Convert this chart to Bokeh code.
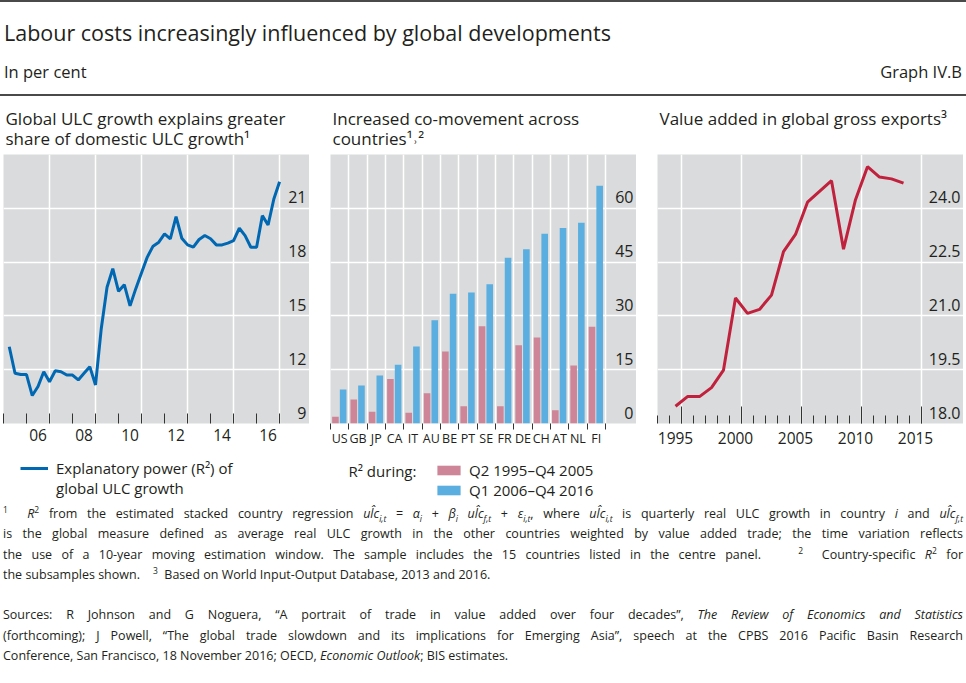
from bokeh.plotting import figure
from bokeh.models import (FixedTicker, Legend, LegendItem, Label, Title, Div,
                          ColumnDataSource, LinearAxis)
from bokeh.layouts import column, row
from bokeh.transform import dodge
from bokeh.core.properties import value
from bokeh.embed import file_html
from bokeh.resources import INLINE

NAN = float("nan")

# ---------------- data ----------------
# Left panel: quarterly explanatory power (R2), 2005Q1 - 2016Q4
ulc_years = list(range(2005, 2017))
ulc_r2 = [13.28, 11.80, 11.73, 11.73, 10.56, 11.06, 11.89, 11.33,
          11.94, 11.89, 11.70, 11.70, 11.43, 11.80, 12.17, 11.15,
          14.30, 16.60, 17.63, 16.37, 16.74, 15.56, 16.52, 17.41,
          18.28, 18.89, 19.11, 19.57, 19.30, 20.54, 19.33, 18.96,
          18.83, 19.26, 19.48, 19.30, 18.96, 18.96, 19.06, 19.20,
          19.89, 19.48, 18.83, 18.83, 20.59, 20.07, 21.52, 22.48]
p1_label_years = [2006, 2008, 2010, 2012, 2014, 2016]
p1_tick_labels = ["06", "08", "10", "12", "14", "16"]
p1_y_ticks = [9, 12, 15, 18, 21]
p1_y_labels = ["9", "12", "15", "18", "21"]

# Centre panel: country R2 in two subsamples
countries = ["US", "GB", "JP", "CA", "IT", "AU", "BE", "PT", "SE", "FR",
             "DE", "CH", "AT", "NL", "FI"]
r2_1995_2005 = [1.9, 6.7, 3.3, 12.4, 3.0, 8.4, 20.1, 4.8, 27.1, 4.8,
                21.8, 24.0, 3.7, 16.2, 27.0]
r2_2006_2016 = [9.5, 10.6, 13.4, 16.4, 21.5, 28.8, 36.2, 36.5, 38.8, 46.2,
                48.6, 52.9, 54.5, 56.0, 66.3]
p2_y_ticks = [0, 15, 30, 45, 60]
p2_y_labels = ["0", "15", "30", "45", "60"]

# Right panel: value added in global gross exports
va_years = list(range(1995, 2015))
va_share = [18.48, 18.75, 18.75, 19.00, 19.49, 21.50, 21.07, 21.18, 21.58, 22.79,
            23.27, 24.17, 24.47, 24.77, 22.86, 24.24, 25.16, 24.87, 24.82, 24.70]
p3_label_years = [1995, 2000, 2005, 2010, 2015]
p3_tick_labels = ["1995", "2000", "2005", "2010", "2015"]
p3_y_ticks = [18.0, 19.5, 21.0, 22.5, 24.0]
p3_y_labels = ["18.0", "19.5", "21.0", "22.5", "24.0"]

# ---------------- style ----------------
FONT = "Open Sans"
TXT = "#231f20"
GRAY = "#dadbdc"
TICK = "#333333"
BLUE_LINE = "#0068b3"
PINK = "#cd8597"
BLUE_BAR = "#5aaee0"
RED = "#c0213d"

TOP = 53
BOTTOM = 32
FRAME_H = 269
FRAME_W = 306
LEG_H = 49


def base_fig(xr, yr, left=0):
    p = figure(frame_width=FRAME_W, frame_height=FRAME_H, x_range=xr, y_range=yr,
               output_backend="svg", toolbar_location=None, title=None,
               y_axis_location=None,
               min_border_left=left, min_border_right=0,
               min_border_top=TOP, min_border_bottom=BOTTOM)
    p.background_fill_color = GRAY
    p.border_fill_color = "white"
    p.outline_line_color = None
    for g in (p.xgrid, p.ygrid):
        g.grid_line_color = "white"
        g.grid_line_width = 1.5
    return p


def legend_fig(left=0):
    f = figure(frame_width=FRAME_W, frame_height=LEG_H, x_range=(0, 1), y_range=(0, 1),
               output_backend="svg", toolbar_location=None, title=None,
               x_axis_location=None, y_axis_location=None,
               min_border=0, min_border_left=left)
    f.xgrid.visible = False
    f.ygrid.visible = False
    f.outline_line_color = None
    f.background_fill_color = "white"
    f.border_fill_color = "white"
    return f


def panel_title(p, lines):
    t = Title(text="\n".join(lines), align="left", offset=2, standoff=9,
              text_font=FONT, text_font_size="17px", text_line_height=0.86,
              text_font_style="normal", text_color=TXT)
    p.add_layout(t, "above")


def y_labels(p, ticks, labels, xpos):
    p.text(x=[xpos] * len(ticks), y=ticks, text=labels,
           text_align="right", text_baseline="bottom", x_offset=-3, y_offset=-5,
           text_font=value(FONT), text_font_size="16px", text_color=TXT)


def style_xaxis(ax, size="15.5px", standoff=5):
    ax.axis_line_color = None
    ax.major_tick_in = 0
    ax.major_tick_out = 0
    ax.major_tick_line_color = None
    ax.minor_tick_line_color = TICK
    ax.minor_tick_line_width = 1
    ax.major_label_standoff = standoff
    ax.major_label_text_font = FONT
    ax.major_label_text_font_size = size
    ax.major_label_text_color = TXT


def legend(items, loc, glyph_width, label_standoff):
    return Legend(items=items, location=loc, orientation="vertical",
                  border_line_color=None, background_fill_alpha=0,
                  label_text_font=FONT, label_text_font_size="15px",
                  label_text_color=TXT, glyph_width=glyph_width, glyph_height=12,
                  label_standoff=label_standoff, label_height=20,
                  spacing=0, padding=0, margin=0)


# ---------------- panel 1 ----------------
P1_X = (2005, 2018.3)
p1 = base_fig(P1_X, (9, 24), left=3)
panel_title(p1, ["Global ULC growth explains greater", "share of domestic ULC growth\u00b9"])
q_x = [y + q / 4 for y in ulc_years for q in (1, 2, 3, 4)]
p1.line(q_x, ulc_r2, line_color=BLUE_LINE, line_width=3)
p1.xgrid.ticker = FixedTicker(ticks=[y + 1 for y in p1_label_years])
p1.ygrid.ticker = FixedTicker(ticks=p1_y_ticks[1:])
ax1 = p1.xaxis[0]
ax1.ticker = FixedTicker(ticks=[y + 0.5 for y in p1_label_years],
                         minor_ticks=list(range(ulc_years[0], ulc_years[-1] + 2)))
ax1.major_label_overrides = {y + 0.5: lab for y, lab in zip(p1_label_years, p1_tick_labels)}
style_xaxis(ax1, standoff=5)
ax1.minor_tick_in = 10
ax1.minor_tick_out = 0
y_labels(p1, p1_y_ticks, p1_y_labels, P1_X[1])

# legend key glyphs (no visible data, only their legend swatches are shown)
lf1 = legend_fig(left=3)
key1 = lf1.line(x=[NAN], y=[NAN], line_color=BLUE_LINE, line_width=3)
key1b = lf1.line(x=[NAN], y=[NAN], line_alpha=0)
lf1.add_layout(legend([LegendItem(label="Explanatory power (R\u00b2) of", renderers=[key1]),
                       LegendItem(label="global ULC growth", renderers=[key1b])],
                      (17, 6), 28, 8))

# ---------------- panel 2 ----------------
P2_X = (0, 16.7)
p2 = base_fig(P2_X, (0, 75))
panel_title(p2, ["Increased co-movement across", "countries\u00b9\u02d2\u00b2"])
src2 = ColumnDataSource(dict(pos=[i + 0.5 for i in range(len(countries))],
                             early=r2_1995_2005, late=r2_2006_2016))
p2.vbar(x=dodge("pos", -0.23), top="early", width=0.36, bottom=0,
        source=src2, fill_color=PINK, line_color=None)
p2.vbar(x=dodge("pos", 0.19), top="late", width=0.36, bottom=0,
        source=src2, fill_color=BLUE_BAR, line_color=None)
p2.xgrid.ticker = FixedTicker(ticks=list(range(1, len(countries) + 1)))
p2.ygrid.ticker = FixedTicker(ticks=p2_y_ticks[1:])
ax2 = p2.xaxis[0]
ax2.ticker = FixedTicker(ticks=[i + 0.5 for i in range(len(countries))],
                         minor_ticks=list(range(0, len(countries) + 1)))
ax2.major_label_overrides = {i + 0.5: c for i, c in enumerate(countries)}
style_xaxis(ax2, size="12.5px", standoff=0)
ax2.minor_tick_in = 0
ax2.minor_tick_out = 6
y_labels(p2, p2_y_ticks, p2_y_labels, P2_X[1])

lf2 = legend_fig()
key_pink = lf2.vbar(x=[NAN], top=[NAN], width=0.36, fill_color=PINK, line_color=None)
key_blue = lf2.vbar(x=[NAN], top=[NAN], width=0.36, fill_color=BLUE_BAR, line_color=None)
lf2.add_layout(legend([LegendItem(label="Q2 1995\u2013Q4 2005", renderers=[key_pink]),
                       LegendItem(label="Q1 2006\u2013Q4 2016", renderers=[key_blue])],
                      (104, 4), 29, 6))
lf2.add_layout(Label(x=18, y=34, x_units="screen", y_units="screen",
                     text="R\u00b2 during:", text_font=FONT, text_font_size="15px",
                     text_color=TXT, text_baseline="middle"))

# ---------------- panel 3 ----------------
P3_X = (1994, 2019.5)
p3 = base_fig(P3_X, (18, 25.5))
panel_title(p3, ["Value added in global gross exports\u00b3", "\u00a0"])
p3.line([y + 0.5 for y in va_years], va_share, line_color=RED, line_width=3)
long_ticks = [y + 1 for y in p3_label_years]
p3.xgrid.ticker = FixedTicker(ticks=long_ticks)
p3.ygrid.ticker = FixedTicker(ticks=p3_y_ticks[1:])
ax3 = p3.xaxis[0]
ax3.ticker = FixedTicker(ticks=[y + 0.5 for y in p3_label_years],
                         minor_ticks=list(range(1994, 2017)))
ax3.major_label_overrides = {y + 0.5: lab for y, lab in zip(p3_label_years, p3_tick_labels)}
style_xaxis(ax3, standoff=8)
ax3.minor_tick_in = 8
ax3.minor_tick_out = 0
ax3b = LinearAxis(ticker=FixedTicker(ticks=long_ticks, minor_ticks=[]),
                  fixed_location=18, axis_line_color=None,
                  major_tick_in=17, major_tick_out=0, major_tick_line_color=TICK,
                  minor_tick_line_color=None, major_label_text_color=None,
                  major_label_text_font_size="0px")
p3.add_layout(ax3b, "below")
y_labels(p3, p3_y_ticks, p3_y_labels, P3_X[1])

# ---------------- header / footer ----------------
RULE = "border-top:2px solid #4a4a4a"
header = Div(width=966, height=100, margin=0, text=f"""
<div style="position:relative;width:966px;height:100px;font-family:'Open Sans';color:{TXT}">
 <div style="position:absolute;left:0;top:0;width:966px;{RULE}"></div>
 <div style="position:absolute;left:4px;top:18px;font-size:21.5px;line-height:30px;white-space:nowrap">Labour costs increasingly influenced by global developments</div>
 <div style="position:absolute;left:4px;top:61px;font-size:16.5px;line-height:22px">In per cent</div>
 <div style="position:absolute;right:4px;top:61px;font-size:16.5px;line-height:22px">Graph IV.B</div>
 <div style="position:absolute;left:0;top:94px;width:966px;{RULE}"></div>
</div>""")

SUP = "font-size:8.5px;vertical-align:super;line-height:0"
SUB = "font-size:8.5px;vertical-align:sub;line-height:0"
J = "text-align:justify;text-align-last:justify"
ulc = "<i>ul&#770;c</i>"


def sup(t):
    return f'<span style="{SUP}">{t}</span>'


def sub(t):
    return f'<span style="{SUB}"><i>{t}</i></span>'


footer = Div(width=966, height=180, margin=0, text=f"""
<div style="width:960px;margin-left:3px;font-family:'Open Sans';font-size:12.5px;line-height:20.3px;color:{TXT}">
<div style="{J}">{sup('1')}&nbsp; <i>R</i>{sup('2')} from the estimated stacked country regression {ulc}{sub('i,t')} = <i>&alpha;</i>{sub('i')} + <i>&beta;</i>{sub('i')} {ulc}{sub('f,t')} + <i>&epsilon;</i>{sub('i,t')}, where {ulc}{sub('i,t')} is quarterly real ULC growth in country <i>i</i> and {ulc}{sub('f,t')}</div>
<div style="{J}">is the global measure defined as average real ULC growth in the other countries weighted by value added trade; the time variation reflects</div>
<div style="{J}">the use of a 10-year moving estimation window. The sample includes the 15 countries listed in the centre panel. &nbsp;&nbsp; {sup('2')}&nbsp; Country-specific <i>R</i>{sup('2')} for</div>
<div>the subsamples shown. &nbsp;&nbsp; {sup('3')}&nbsp; Based on World Input-Output Database, 2013 and 2016.</div>
<div style="height:20.3px"></div>
<div style="{J}">Sources: R Johnson and G Noguera, &ldquo;A portrait of trade in value added over four decades&rdquo;, <i>The Review of Economics and Statistics</i></div>
<div style="{J}">(forthcoming); J Powell, &ldquo;The global trade slowdown and its implications for Emerging Asia&rdquo;, speech at the CPBS 2016 Pacific Basin Research</div>
<div>Conference, San Francisco, 18 November 2016; OECD, <i>Economic Outlook</i>; BIS estimates.</div>
</div>
<div style="margin-top:18px;width:966px;{RULE}"></div>""")

panels = row(column(p1, lf1, spacing=0), column(p2, lf2, spacing=0), p3, spacing=21)
layout = column(header, panels, footer, spacing=0)

with open("out.html", "w") as f:
    f.write(file_html(layout, INLINE, title="Labour costs increasingly influenced by global developments"))
